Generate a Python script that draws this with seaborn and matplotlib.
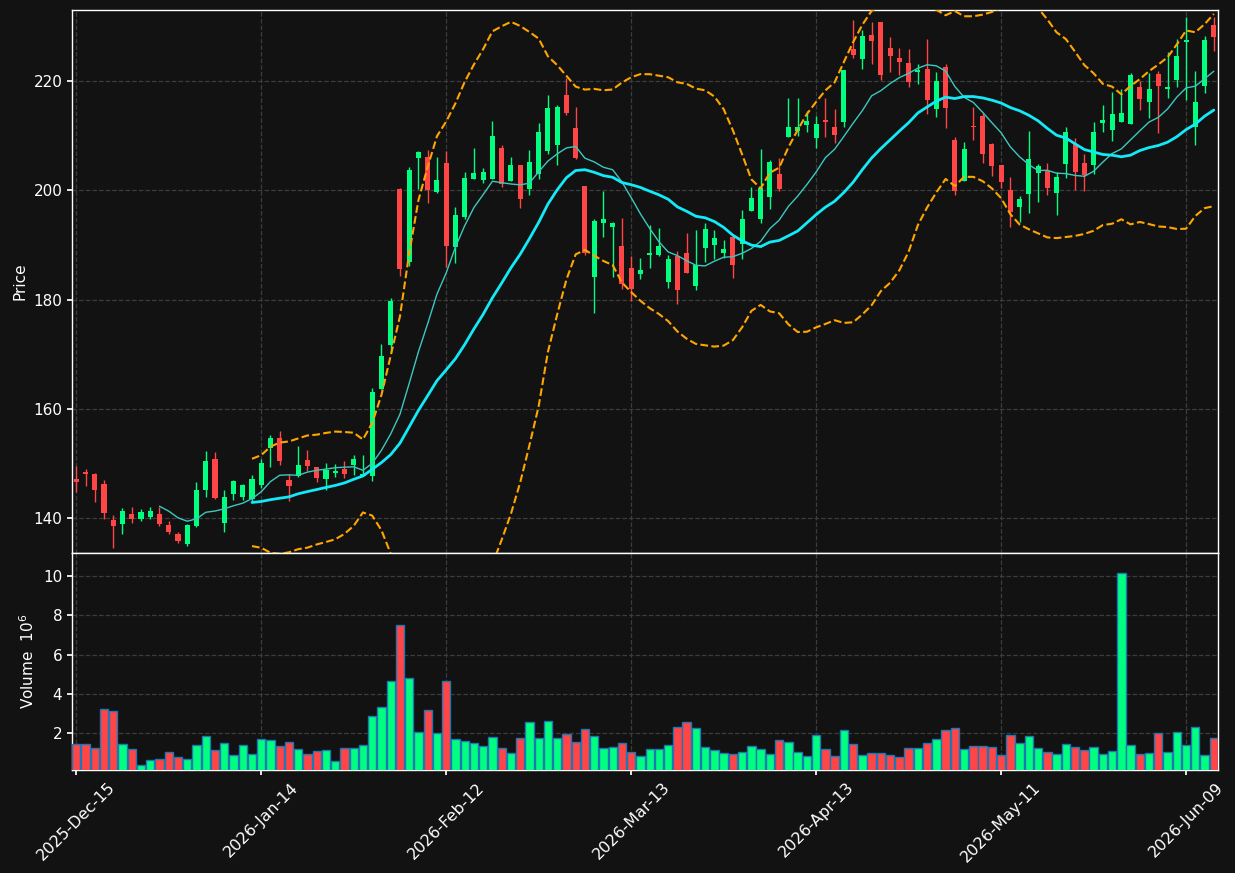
import numpy as np
import pandas as pd
import matplotlib
matplotlib.use("Agg")
import matplotlib.pyplot as plt
import seaborn as sns

# ---------------- data ----------------
start_date = "2025-12-15"
market_holidays = ["2025-12-25", "2026-01-01", "2026-01-19", "2026-02-16", "2026-04-03", "2026-05-25"]

opens = [147.19, 148.35, 148.10, 146.27, 139.70, 138.84, 140.79, 139.88, 140.24, 140.79,
         138.78, 137.13, 135.30, 138.60, 145.04, 150.84, 139.02, 144.45, 143.77, 143.52,
         145.97, 152.84, 154.68, 147.01, 147.64, 150.69, 149.38, 147.18, 148.25, 149.04,
         149.78, 147.62, 147.64, 163.70, 171.62, 200.24, 186.79, 205.93, 206.12, 199.76,
         205.02, 189.65, 195.12, 202.01, 201.89, 202.01, 207.68, 201.71, 204.57, 200.18,
         202.93, 207.13, 208.23, 217.40, 211.43, 200.73, 184.15, 193.96, 193.29, 189.76,
         185.73, 184.70, 188.17, 188.17, 183.23, 187.99, 188.60, 182.50, 189.51, 190.00,
         188.60, 191.40, 190.24, 196.22, 194.82, 198.78, 202.93, 209.80, 210.90, 212.00,
         209.60, 212.90, 211.60, 212.42, 225.82, 224.06, 228.42, 230.73, 226.06, 224.24,
         223.33, 221.70, 222.18, 214.91, 222.55, 209.27, 201.70, 211.82, 213.64, 208.55,
         204.55, 200.00, 197.03, 199.27, 203.09, 203.52, 199.45, 204.73, 208.48, 205.03,
         204.61, 212.30, 210.97, 212.42, 212.06, 218.85, 216.24, 221.21, 218.48, 220.18,
         227.15, 211.52, 219.09, 230.18]
highs = [149.44, 148.96, 148.20, 146.95, 140.54, 141.82, 142.01, 141.64, 142.01, 142.01,
         139.51, 137.38, 138.96, 146.64, 152.30, 152.06, 145.10, 146.90, 146.30, 147.92,
         150.84, 155.17, 155.93, 148.05, 153.25, 152.52, 149.40, 150.08, 149.90, 150.39,
         151.60, 151.59, 163.85, 171.80, 180.37, 200.40, 204.22, 207.20, 207.40, 206.12,
         207.28, 197.03, 203.41, 207.80, 204.15, 212.70, 208.23, 206.16, 204.57, 207.44,
         212.30, 217.40, 215.60, 220.49, 215.25, 200.73, 194.70, 199.94, 194.27, 195.00,
         187.99, 187.68, 193.60, 193.17, 188.17, 188.90, 192.26, 192.74, 194.09, 192.68,
         190.91, 191.40, 196.34, 200.67, 207.50, 205.49, 205.98, 216.83, 216.83, 214.45,
         213.60, 216.83, 214.80, 222.00, 231.21, 229.27, 230.79, 230.80, 228.06, 226.12,
         225.94, 223.03, 227.76, 221.58, 223.21, 209.76, 208.85, 215.33, 214.12, 208.60,
         204.60, 202.48, 198.97, 210.79, 204.85, 204.91, 203.33, 211.58, 209.58, 206.73,
         212.48, 215.64, 218.06, 218.48, 221.39, 220.06, 221.39, 221.82, 225.33, 227.64,
         231.70, 221.82, 228.18, 231.70]
lows = [144.69, 145.79, 142.92, 139.81, 134.51, 137.07, 139.02, 139.39, 139.81, 138.48,
        137.13, 135.48, 134.94, 138.30, 143.76, 143.45, 137.37, 143.23, 143.23, 142.92,
        145.48, 149.36, 149.68, 143.05, 147.48, 148.55, 146.52, 145.06, 147.48, 147.33,
        147.80, 147.62, 146.71, 163.67, 170.28, 184.34, 186.18, 200.24, 197.61, 199.45,
        185.87, 186.63, 194.70, 202.01, 201.40, 202.01, 200.67, 201.71, 196.83, 199.21,
        202.13, 206.59, 204.70, 213.78, 205.67, 188.17, 177.62, 191.52, 184.21, 182.01,
        179.76, 183.84, 185.85, 187.99, 182.20, 179.15, 184.82, 181.77, 186.95, 187.38,
        187.68, 184.02, 187.38, 196.22, 193.96, 196.65, 199.88, 209.80, 209.94, 210.67,
        207.80, 209.76, 208.70, 211.58, 224.24, 222.12, 223.09, 220.12, 221.58, 221.03,
        218.97, 219.45, 213.94, 213.39, 211.39, 199.21, 201.70, 209.27, 205.03, 202.61,
        200.48, 193.21, 194.12, 195.88, 197.88, 199.21, 195.52, 202.30, 200.06, 199.88,
        203.03, 210.61, 208.97, 212.42, 212.06, 214.73, 213.21, 210.48, 216.85, 218.97,
        216.55, 208.24, 217.76, 225.52]
closes = [146.52, 147.98, 145.05, 140.85, 138.48, 141.34, 139.88, 141.15, 141.34, 138.96,
          137.50, 135.85, 138.78, 145.16, 150.47, 143.70, 143.88, 146.76, 146.09, 147.19,
          150.11, 154.56, 150.39, 145.79, 149.78, 149.47, 147.26, 148.86, 148.68, 148.09,
          150.87, 148.11, 163.12, 169.72, 179.69, 185.57, 203.73, 206.97, 200.06, 201.90,
          189.85, 195.45, 202.20, 203.11, 203.41, 209.88, 201.10, 204.57, 198.41, 205.12,
          210.61, 215.10, 215.25, 214.15, 205.98, 188.48, 194.33, 194.70, 193.96, 182.80,
          181.89, 185.37, 188.48, 189.76, 187.38, 181.77, 184.94, 186.34, 192.87, 191.34,
          189.21, 186.34, 194.70, 198.54, 200.49, 205.18, 200.24, 211.60, 211.60, 212.65,
          212.15, 212.55, 210.20, 222.00, 224.73, 228.18, 227.33, 221.03, 224.61, 223.52,
          219.88, 222.00, 216.55, 220.00, 215.15, 199.88, 207.64, 211.52, 206.73, 204.42,
          201.52, 196.06, 198.36, 205.64, 204.36, 200.36, 202.36, 210.73, 203.39, 202.79,
          210.73, 212.91, 214.00, 214.12, 221.09, 216.79, 218.48, 219.15, 218.85, 224.55,
          227.45, 216.18, 227.45, 228.06]
volumes_millions = [1.44, 1.44, 1.23, 3.22, 3.12, 1.44, 1.18, 0.37, 0.62, 0.67,
                    1.03, 0.77, 0.67, 1.39, 1.85, 1.13, 1.49, 0.88, 1.39, 0.93,
                    1.69, 1.64, 1.34, 1.54, 1.18, 0.93, 1.08, 1.13, 0.57, 1.23,
                    1.23, 1.39, 2.87, 3.33, 4.66, 7.51, 4.81, 2.05, 3.17, 2.00,
                    4.66, 1.69, 1.59, 1.49, 1.34, 1.80, 1.23, 0.98, 1.74, 2.56,
                    1.74, 2.61, 1.74, 1.95, 1.54, 2.20, 1.85, 1.23, 1.29, 1.49,
                    1.03, 0.83, 1.18, 1.18, 1.39, 2.31, 2.56, 2.26, 1.29, 1.13,
                    0.98, 0.93, 1.03, 1.34, 1.18, 0.93, 1.64, 1.54, 1.03, 0.83,
                    1.90, 1.18, 0.83, 2.15, 1.44, 0.88, 0.98, 0.98, 0.88, 0.77,
                    1.23, 1.23, 1.49, 1.69, 2.15, 2.26, 1.18, 1.34, 1.34, 1.29,
                    0.88, 1.90, 1.49, 1.85, 1.23, 1.03, 0.93, 1.44, 1.29, 1.13,
                    1.29, 0.93, 1.08, 10.17, 1.39, 0.93, 0.98, 2.00, 1.03, 2.05,
                    1.39, 2.31, 0.88, 1.74]
mav_periods = [10, 20]
bb_period = 20
bb_k = 2
tick_every = 20
price_ylim = (133.6, 233.0)

# ---------------- frame ----------------
dates = pd.bdate_range(start_date, periods=len(closes), freq="C", holidays=market_holidays)
df = pd.DataFrame({"Open": opens, "High": highs, "Low": lows, "Close": closes,
                   "Volume": volumes_millions}, index=dates)
df["i"] = np.arange(len(df))
df["up"] = df["Close"] >= df["Open"]
for p in mav_periods:
    df[f"ma{p}"] = df["Close"].rolling(p).mean()
mid = df["Close"].rolling(bb_period).mean()
sd = df["Close"].rolling(bb_period).std()
df["bb_up"] = mid + bb_k * sd
df["bb_lo"] = mid - bb_k * sd

# ---------------- style ----------------
BG = "#121212"
UP = "#00ff80"
DN = "#ff4545"
sns.set_theme(style="dark", rc={
    "figure.facecolor": BG, "axes.facecolor": BG, "axes.edgecolor": "white",
    "axes.labelcolor": "white", "xtick.color": "white", "ytick.color": "white",
    "text.color": "white", "grid.color": "#3c3c3c", "grid.linestyle": "--",
    "grid.linewidth": 0.9, "axes.linewidth": 1.0,
    "xtick.bottom": True, "ytick.left": True,
})
plt.rcParams["font.family"] = ["DejaVu Sans"]

fig = plt.figure(figsize=(12.35, 8.73), dpi=100)
ax = fig.add_axes([0.0583, 0.3666, 0.928, 0.6219])
axv = fig.add_axes([0.0583, 0.118, 0.928, 0.2486], sharex=ax)

colors = np.where(df["up"], UP, DN)
x = df["i"].values

# candles
ax.vlines(x, df["Low"], df["High"], colors=colors, linewidth=1.0, zorder=3)
body_bottom = np.minimum(df["Open"], df["Close"])
body_h = np.abs(df["Close"] - df["Open"])
body_h = np.where(body_h < 0.15, 0.15, body_h)
ax.bar(x, body_h, bottom=body_bottom, width=0.55, color=colors, linewidth=0, zorder=4)

# moving averages and bands
sns.lineplot(data=df, x="i", y="ma10", ax=ax, color="#3cc8c0", linewidth=1.0, zorder=5)
sns.lineplot(data=df, x="i", y="ma20", ax=ax, color="#12eaf8", linewidth=2.0, zorder=5)
sns.lineplot(data=df, x="i", y="bb_up", ax=ax, color="#ffa500", linewidth=1.5,
             linestyle="--", zorder=5)
sns.lineplot(data=df, x="i", y="bb_lo", ax=ax, color="#ffa500", linewidth=1.5,
             linestyle="--", zorder=5)

ax.set_ylim(*price_ylim)
ax.set_xlim(-0.46, len(df) - 0.54)
ax.set_ylabel("Price", fontsize=11)
ax.set_xlabel("")
ax.grid(True, axis="both")
ax.tick_params(axis="x", labelbottom=False, length=0)
ax.tick_params(axis="y", labelsize=11, length=3.5)

# volume
axv.bar(x, df["Volume"], width=0.9, color=colors, edgecolor="#1f77b4", linewidth=1.0, zorder=3)
axv.set_ylim(0.3 * df["Volume"].min(), 1.1 * df["Volume"].max())
axv.set_yticks([2, 4, 6, 8, 10])
axv.set_ylabel("Volume  $10^{6}$", fontsize=11)
axv.grid(True, axis="both")
tick_pos = x[::tick_every]
tick_labels = [d.strftime("%Y-%b-%d") for d in df.index[::tick_every]]
axv.set_xticks(tick_pos)
axv.set_xticklabels(tick_labels, rotation=45, ha="center", fontsize=11.5)
axv.tick_params(axis="y", labelsize=11, length=3.5)
axv.tick_params(axis="x", length=3.5)
axv.set_xlabel("")

for a in (ax, axv):
    for s in a.spines.values():
        s.set_color("white")

fig.savefig("out.png", dpi=100, facecolor=BG)
